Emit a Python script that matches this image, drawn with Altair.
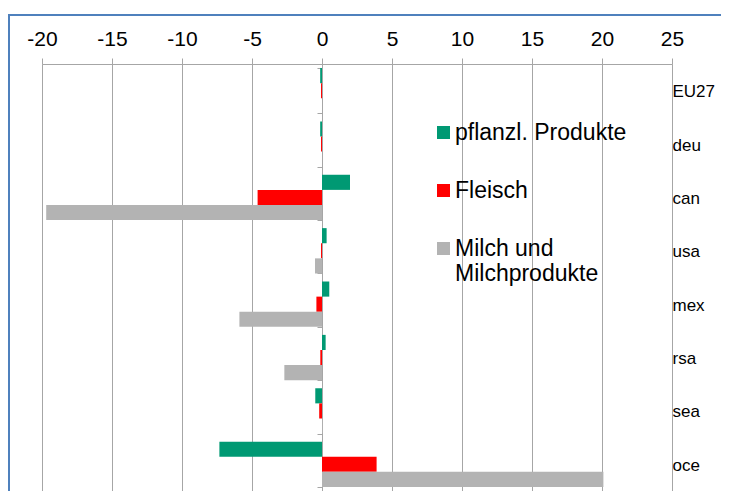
import altair as alt
import pandas as pd

regions = ["EU27", "deu", "can", "usa", "mex", "rsa", "sea", "oce"]
series = ["pflanzl. Produkte", "Fleisch", "Milch und|Milchprodukte"]
pflanzl = [-0.13, -0.13, 2.0, 0.33, 0.52, 0.26, -0.48, -7.33]
fleisch = [-0.07, -0.07, -4.6, -0.07, -0.4, -0.12, -0.2, 3.9]
milch = [0.0, 0.0, -19.7, -0.5, -5.9, -2.69, 0.05, 20.1]
colors = ["#009973", "#FF0000", "#B3B3B3"]
x_ticks = [-20, -15, -10, -5, 0, 5, 10, 15, 20, 25]

rows = []
for s, vals in zip(series, [pflanzl, fleisch, milch]):
    for r, v in zip(regions, vals):
        rows.append({"region": r, "serie": s, "value": v})
df = pd.DataFrame(rows)

FONT = "Liberation Sans"

xscale = alt.Scale(domain=[-20, 25], nice=False, zero=False)
xaxis = alt.Axis(orient="top", values=x_ticks, title=None, grid=True,
                 gridColor="#A6A6A6", domainColor="#A6A6A6", tickColor="#A6A6A6",
                 tickSize=6, labelFontSize=21, labelColor="#000000",
                 labelFont=FONT, labelPadding=9, labelFlush=False,
                 labelExpr="datum.value + ''")

yscale = alt.Scale(domain=regions, paddingInner=0.15, paddingOuter=0.075)

bars = alt.Chart(df).mark_bar().encode(
    x=alt.X("value:Q", scale=xscale, axis=xaxis),
    x2=alt.datum(0),
    y=alt.Y("region:N", scale=yscale,
            axis=alt.Axis(orient="right", title=None, ticks=False, domain=False,
                          labelFontSize=17, labelColor="#000000", labelFont=FONT,
                          labelPadding=0, labelAlign="left", labelOffset=1.5)),
    yOffset=alt.YOffset("serie:N", sort=series),
    color=alt.Color("serie:N", sort=series,
                    scale=alt.Scale(domain=series, range=colors),
                    legend=alt.Legend(orient="none", legendX=390, legendY=57, title=None,
                                      symbolType="square", symbolSize=169,
                                      symbolStrokeWidth=0, labelFontSize=23,
                                      labelFont=FONT, labelColor="#000000",
                                      labelExpr="split(datum.label, '|')",
                                      rowPadding=34, padding=0, labelOffset=0,
                                      labelLimit=300)),
)

zero_axis = alt.Chart(df).mark_bar(opacity=0).encode(
    x=alt.X("value:Q", scale=xscale, axis=xaxis),
    y=alt.Y("region:N", scale=yscale,
            axis=alt.Axis(orient="left", offset=-280, title=None, labels=False,
                          tickBand="extent", tickSize=5, tickColor="#A6A6A6",
                          domainColor="#A6A6A6", grid=False)),
)

frame = alt.Chart(pd.DataFrame({"a": [0]})).mark_rect(
    fill=None, stroke="#4F81BD", strokeWidth=2, clip=False
).encode(x=alt.value(-33), x2=alt.value(720), y=alt.value(-49), y2=alt.value(470))

chart = alt.layer(frame, zero_axis, bars).resolve_axis(y="independent").properties(
    width=630, height=427,
    padding={"left": 34, "top": 56, "right": 49, "bottom": 0},
    autosize=alt.AutoSizeParams(type="none"),
).configure_view(strokeWidth=0).configure(background="#FFFFFF")

chart.save("out.html", embed_options={"renderer": "svg", "actions": False})
